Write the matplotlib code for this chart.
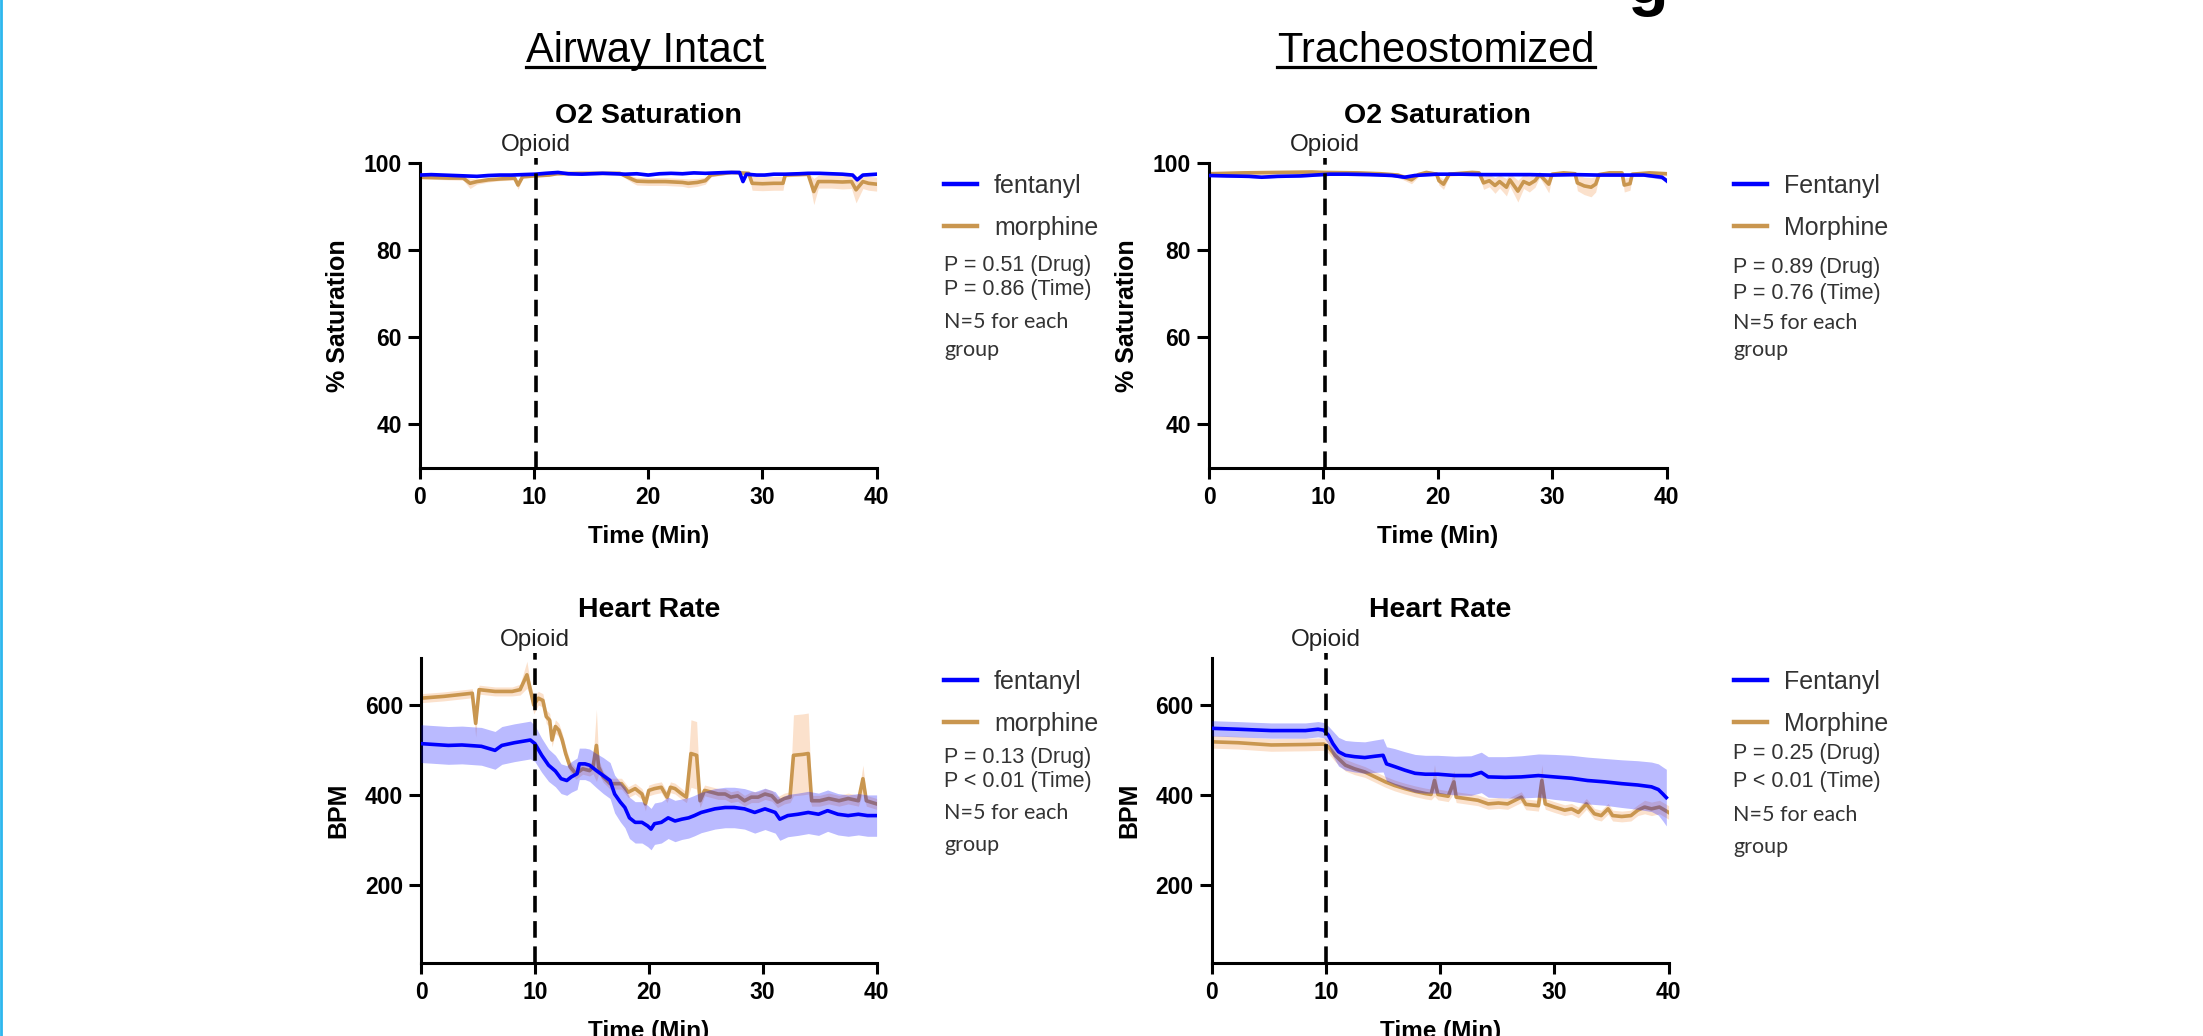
import numpy as np
import matplotlib
matplotlib.use("Agg")
import matplotlib.pyplot as plt
from matplotlib.lines import Line2D

# ---------------- data ----------------
# O2 saturation, airway intact
fen_o2_int_t = [0, 1, 2, 3, 4, 5, 6, 7, 8, 9, 10.1, 11, 12.1, 13, 14.2, 15, 16, 17.1, 18, 19, 20, 21, 22,
                23, 24, 25, 26, 27, 28, 28.3, 28.6, 29.5, 30.2, 31, 32, 33.2, 34, 35, 36, 37, 37.9, 38.3,
                38.8, 40]
fen_o2_int_v = [97.3, 97.4, 97.3, 97.2, 97.1, 97.0, 97.2, 97.3, 97.3, 97.4, 97.5, 97.7, 97.9, 97.6, 97.5,
                97.6, 97.7, 97.6, 97.5, 97.6, 97.3, 97.6, 97.7, 97.6, 97.8, 97.7, 97.8, 97.9, 97.9, 95.8,
                97.5, 97.3, 97.3, 97.5, 97.5, 97.6, 97.7, 97.7, 97.6, 97.5, 97.3, 96.2, 97.3, 97.5]
fen_o2_int_e = [0.3] * 44
mor_o2_int_t = [0, 2.5, 3.8, 4.4, 5, 6, 7, 8.3, 8.6, 9, 10, 11.3, 12, 14.2, 16, 17.5, 18.7, 19, 20, 21.5,
                23, 23.5, 24.3, 25, 25.5, 27.3, 28.8, 29.1, 30, 31, 31.8, 32, 34, 34.5, 34.9, 36, 37,
                37.8, 38.2, 38.8, 39.3, 40]
mor_o2_int_v = [96.8, 96.6, 96.6, 95.4, 95.8, 96.2, 96.4, 96.6, 95.0, 96.9, 97.1, 97.3, 97.6, 97.7, 97.7,
                97.7, 96.2, 95.9, 95.8, 95.8, 95.6, 95.4, 95.6, 96.0, 97.3, 97.9, 97.7, 95.4, 95.3, 95.4,
                95.4, 97.3, 97.5, 93.5, 95.8, 95.8, 95.7, 95.8, 93.9, 95.8, 95.4, 95.2]
mor_o2_int_e = [0.4, 0.4, 0.5, 1.2, 0.6, 0.5, 0.4, 0.5, 1.0, 0.4, 0.3, 0.3, 0.3, 0.3, 0.3, 0.3, 0.8, 0.9,
                0.9, 0.9, 0.9, 1.0, 0.9, 0.8, 0.4, 0.3, 0.4, 1.6, 1.6, 1.6, 1.6, 0.4, 0.4, 3.0, 1.5, 1.5,
                1.6, 1.6, 3.0, 1.6, 1.6, 1.6]

# O2 saturation, tracheostomized
fen_o2_tra_t = [0, 1.5, 3.5, 4.6, 6, 8, 9.9, 10.5, 12, 14, 16, 17.1, 18, 19.9, 22, 24, 26, 28, 30, 32, 34,
                36, 38, 39.6, 40]
fen_o2_tra_v = [97.2, 97.1, 97.0, 96.8, 97.0, 97.1, 97.4, 97.5, 97.5, 97.4, 97.2, 96.8, 97.2, 97.5, 97.5,
                97.4, 97.4, 97.4, 97.3, 97.4, 97.3, 97.3, 97.3, 96.8, 96.0]
fen_o2_tra_e = [0.3] * 23 + [0.5, 0.6]
mor_o2_tra_t = [0, 3, 6, 9, 10, 13, 15, 16.5, 17.7, 18.3, 19, 19.9, 20.1, 20.5, 21, 23, 23.6, 24, 24.5, 25,
                25.4, 26, 26.3, 27, 27.5, 28, 28.5, 28.9, 29.7, 30, 31, 32, 32.2, 32.8, 33.4, 33.8, 34.1,
                35, 36.1, 36.3, 36.8, 37, 38.5, 40]
mor_o2_tra_v = [97.6, 97.8, 97.9, 98.0, 97.9, 97.8, 97.6, 97.3, 96.2, 97.4, 97.9, 97.5, 96.0, 95.2, 97.5,
                97.9, 97.8, 95.5, 96.0, 94.9, 95.8, 94.5, 96.2, 93.6, 95.8, 95.2, 96.0, 97.4, 95.2, 97.5,
                97.8, 97.6, 95.5, 94.8, 94.5, 95.2, 97.4, 97.8, 97.8, 95.0, 95.3, 97.5, 97.8, 97.6]
mor_o2_tra_e = [0.4, 0.4, 0.4, 0.4, 0.4, 0.4, 0.4, 0.5, 0.9, 0.5, 0.4, 0.5, 1.0, 1.2, 0.5, 0.4, 0.4, 1.5,
                1.4, 1.8, 1.5, 2.0, 1.5, 2.5, 1.6, 1.8, 1.5, 0.6, 2.0, 0.5, 0.4, 0.5, 1.8, 2.0, 2.2, 1.8,
                0.5, 0.4, 0.4, 1.6, 1.5, 0.5, 0.4, 0.5]

# Heart rate, airway intact
fen_hr_int_t = [0, 1.2, 2.4, 3.6, 5.3, 6.5, 7.1, 8.2, 9.6, 10.0, 10.6, 11.2, 11.8, 12.3, 12.8, 13.2, 13.7,
                13.9, 14.4, 14.8, 15.4, 16.0, 16.6, 17.0, 17.5, 17.9, 18.3, 18.8, 19.4, 19.9, 20.2, 20.5,
                21.1, 21.7, 22.3, 22.9, 23.5, 24.0, 24.6, 25.2, 25.8, 26.7, 27.5, 28.4, 29.3, 30.2, 31.1,
                31.5, 32.2, 33.1, 34.0, 34.9, 35.7, 36.6, 37.5, 38.4, 39.2, 40]
fen_hr_int_v = [514, 512, 510, 511, 508, 499, 510, 516, 522, 514, 488, 466, 453, 436, 432, 440, 447, 469,
                469, 466, 454, 443, 432, 402, 384, 372, 349, 339, 339, 331, 324, 336, 339, 349, 342, 346,
                349, 354, 361, 365, 369, 372, 372, 369, 361, 369, 361, 346, 354, 357, 361, 357, 365, 357,
                354, 357, 354, 354]
fen_hr_int_e = [42, 42, 42, 42, 42, 42, 42, 42, 42, 40, 38, 36, 35, 33, 33, 34, 35, 35, 35, 36, 38, 40,
                40, 42, 44, 45, 46, 46, 46, 46, 46, 46, 46, 46, 46, 45, 45, 45, 45, 45, 45, 45, 45, 45,
                46, 46, 46, 47, 47, 47, 47, 47, 46, 46, 46, 46, 46, 46]
mor_hr_int_t = [0, 2.0, 4.5, 4.8, 5.1, 6.5, 8.0, 8.7, 9.3, 9.6, 9.9, 10.3, 10.7, 11.0, 11.3, 11.5, 11.8,
                12.1, 12.4, 12.7, 13.1, 13.6, 14.2, 14.8, 15.1, 15.4, 15.6, 16.0, 16.6, 17.0, 17.6, 18.2,
                18.8, 19.4, 19.7, 20.0, 20.5, 21.1, 21.6, 21.9, 22.3, 22.9, 23.3, 23.7, 24.2, 24.5, 24.9,
                25.5, 26.1, 26.7, 27.2, 27.8, 28.4, 29.0, 29.6, 30.2, 30.8, 31.3, 31.9, 32.4, 32.7, 33.5,
                34.0, 34.3, 35.0, 35.8, 36.7, 37.5, 38.4, 38.8, 39.1, 40]
mor_hr_int_v = [615, 619, 626, 559, 634, 630, 630, 634, 667, 634, 600, 615, 610, 574, 566, 522, 552, 544,
                522, 492, 462, 447, 458, 454, 462, 510, 462, 440, 425, 425, 425, 406, 414, 402, 380, 410,
                414, 417, 395, 417, 414, 402, 395, 492, 488, 387, 410, 406, 402, 402, 395, 398, 387, 395,
                395, 402, 398, 384, 392, 395, 488, 490, 492, 387, 387, 392, 387, 392, 387, 436, 387, 380]
mor_hr_int_e = [10, 10, 10, 30, 10, 10, 10, 12, 30, 15, 20, 15, 15, 15, 15, 15, 15, 15, 15, 15, 12, 12,
                12, 12, 15, 80, 15, 12, 12, 12, 12, 12, 12, 12, 15, 12, 12, 12, 12, 12, 12, 12, 12, 75,
                75, 15, 12, 12, 12, 12, 12, 12, 12, 12, 12, 12, 12, 12, 12, 12, 90, 90, 90, 12, 12, 12,
                12, 12, 12, 30, 12, 12]

# Heart rate, tracheostomized
fen_hr_tra_t = [0, 2.3, 5.2, 8.2, 9.3, 9.8, 10.2, 10.6, 11.1, 11.7, 12.5, 13.4, 14.3, 15.0, 15.3, 16.0,
                16.9, 17.8, 18.7, 19.8, 21.3, 22.7, 23.6, 24.2, 25.7, 27.1, 28.6, 30.0, 31.5, 32.9, 34.4,
                35.9, 37.3, 38.5, 39.1, 39.5, 39.8]
fen_hr_tra_v = [548, 546, 543, 543, 546, 544, 533, 514, 496, 488, 485, 483, 486, 488, 469, 463, 455, 448,
                446, 446, 443, 443, 450, 440, 439, 440, 443, 440, 437, 432, 429, 425, 422, 418, 412, 402,
                394]
fen_hr_tra_e = [17, 17, 17, 17, 17, 17, 20, 28, 32, 33, 34, 35, 36, 37, 38, 40, 41, 42, 42, 42, 43, 44,
                45, 45, 46, 47, 48, 50, 51, 52, 52, 53, 54, 55, 57, 60, 63]
mor_hr_tra_t = [0, 2.3, 5.2, 8.2, 9.8, 10.2, 10.8, 11.7, 12.5, 13.4, 14.3, 15.2, 16.0, 16.9, 17.8, 18.7,
                19.2, 19.5, 19.8, 20.7, 21.2, 21.4, 22.5, 23.3, 24.2, 25.1, 25.9, 27.1, 27.5, 28.6, 28.9,
                29.2, 30.0, 30.9, 31.5, 32.1, 32.8, 33.5, 34.1, 34.7, 35.1, 35.9, 36.7, 37.3, 37.9, 38.5,
                39.2, 40]
mor_hr_tra_v = [518, 516, 511, 512, 513, 507, 488, 466, 458, 451, 440, 429, 421, 414, 408, 403, 401, 432,
                401, 397, 429, 395, 391, 388, 380, 382, 380, 395, 379, 376, 432, 380, 373, 366, 369, 361,
                380, 358, 354, 369, 354, 352, 354, 366, 373, 369, 373, 361]
mor_hr_tra_e = [14, 14, 14, 14, 14, 14, 14, 13, 13, 12, 12, 12, 12, 12, 12, 12, 12, 35, 12, 12, 25, 12,
                12, 12, 12, 12, 12, 12, 12, 12, 35, 12, 12, 12, 12, 12, 12, 12, 12, 12, 12, 12, 12, 12,
                15, 15, 15, 15]

o2_yticks = [40, 60, 80, 100]
hr_yticks = [200, 400, 600]
x_ticks = [0, 10, 20, 30, 40]
opioid_times = [10.2, 10.1, 10.0, 10.0]
headers = ["Airway Intact", "Tracheostomized"]
legend_left = ["fentanyl", "morphine"]
legend_right = ["Fentanyl", "Morphine"]
stats = [["P = 0.51 (Drug)", "P = 0.86 (Time)"],
         ["P = 0.89 (Drug)", "P = 0.76 (Time)"],
         ["P = 0.13 (Drug)", "P < 0.01 (Time)"],
         ["P = 0.25 (Drug)", "P < 0.01 (Time)"]]
n_text = ["N=5 for each", "group"]

# ---------------- styling ----------------
W, H = 2203, 1036
plt.rcParams['font.family'] = ['Liberation Sans', 'DejaVu Sans']
BLUE = '#0000FF'
TAN = '#C9964F'
PEACH = '#FBDCC3'
TXT = '#333333'

fig = plt.figure(figsize=(W / 100, H / 100), dpi=100)


def rect(l, r, top, bottom):
    return [l / W, 1 - bottom / H, (r - l) / W, (bottom - top) / H]


panels = [
    dict(rect=rect(419.8, 876.6, 163.3, 467.7), ylim=(30, 100), yticks=o2_yticks, ylabel='% Saturation',
         title='O2 Saturation', f=(fen_o2_int_t, fen_o2_int_v, fen_o2_int_e),
         m=(mor_o2_int_t, mor_o2_int_v, mor_o2_int_e), leg=legend_left,
         lx=944, ly=183, px=944, py=[265, 290, 322, 350]),
    dict(rect=rect(1209, 1666.6, 163.3, 467.7), ylim=(30, 100), yticks=o2_yticks, ylabel='% Saturation',
         title='O2 Saturation', f=(fen_o2_tra_t, fen_o2_tra_v, fen_o2_tra_e),
         m=(mor_o2_tra_t, mor_o2_tra_v, mor_o2_tra_e), leg=legend_right,
         lx=1734, ly=183, px=1733, py=[267, 293, 323, 350]),
    dict(rect=rect(421, 876.6, 657.7, 962.7), ylim=(27, 705), yticks=hr_yticks, ylabel='BPM',
         title='Heart Rate', f=(fen_hr_int_t, fen_hr_int_v, fen_hr_int_e),
         m=(mor_hr_int_t, mor_hr_int_v, mor_hr_int_e), leg=legend_left,
         lx=944, ly=679, px=944, py=[757, 782, 813, 845]),
    dict(rect=rect(1211.8, 1668.6, 657.7, 962.7), ylim=(27, 705), yticks=hr_yticks, ylabel='BPM',
         title='Heart Rate', f=(fen_hr_tra_t, fen_hr_tra_v, fen_hr_tra_e),
         m=(mor_hr_tra_t, mor_hr_tra_v, mor_hr_tra_e), leg=legend_right,
         lx=1734, ly=679, px=1733, py=[753, 781, 815, 847]),
]

for i, p in enumerate(panels):
    ax = fig.add_axes(p['rect'])
    mt, mv, me = (np.asarray(a, float) for a in p['m'])
    ft, fv, fe = (np.asarray(a, float) for a in p['f'])
    ax.fill_between(mt, mv - me, mv + me, color=PEACH, alpha=0.85, lw=0, zorder=1)
    hm, = ax.plot(mt, mv, color=TAN, lw=2.6, zorder=2, solid_joinstyle='round')
    ax.fill_between(ft, fv - fe, fv + fe, color=BLUE, alpha=0.27, lw=0, zorder=3)
    hf, = ax.plot(ft, fv, color=BLUE, lw=2.6, zorder=4, solid_joinstyle='round')

    ax.set_xlim(0, 40)
    ax.set_ylim(*p['ylim'])
    ax.set_xticks(x_ticks)
    ax.set_yticks(p['yticks'])
    for s in ('top', 'right'):
        ax.spines[s].set_visible(False)
    for s in ('left', 'bottom'):
        ax.spines[s].set_linewidth(2.2)
    ax.tick_params(axis='both', direction='out', width=2.2, labelsize=16.5, color='black')
    ax.tick_params(axis='y', length=9, pad=4)
    ax.tick_params(axis='x', length=8, pad=5)
    plt.setp(ax.get_xticklabels() + ax.get_yticklabels(), fontweight='bold')
    ax.set_xlabel('Time (Min)', fontsize=17.5, fontweight='bold', labelpad=12)
    ax.set_ylabel(p['ylabel'], fontsize=18, fontweight='bold', labelpad=10)
    ax.set_title(p['title'], fontsize=20.5, fontweight='bold', pad=29)

    # opioid marker
    xo = opioid_times[i]
    ax.axvline(xo, ymin=0, ymax=1.016, color='black', lw=2.6, dashes=(4.6, 2.4), clip_on=False, zorder=5)
    ax.annotate('Opioid', xy=(xo, 1.0), xycoords=('data', 'axes fraction'), xytext=(0, 13),
                textcoords='offset points', ha='center', va='center', fontsize=17.5, color='#222222')

    # legend
    lx0 = p['lx']
    leg = ax.legend([hf, hm], p['leg'], loc='upper left', frameon=False,
                    bbox_to_anchor=((lx0) / W, 1 - (p['ly'] - 9) / H), bbox_transform=fig.transFigure,
                    fontsize=18, handlelength=1.3, handletextpad=0.7, labelspacing=0.7,
                    borderpad=0, borderaxespad=0)
    for t in leg.get_texts():
        t.set_color(TXT)
    for h in leg.legend_handles:
        h.set_linewidth(3.2)

    # stats text
    py = p['py']
    for k, s in enumerate(stats[i]):
        fig.text(p['px'] / W, 1 - py[k] / H, s, fontsize=15.5, color=TXT, va='center', ha='left')
    for k, s in enumerate(n_text):
        fig.text(p['px'] / W, 1 - py[2 + k] / H, s, fontsize=15.5, color=TXT, va='center', ha='left',
                 family=['Lato', 'DejaVu Sans'])

# column headers with underline
renderer = fig.canvas.get_renderer()
for hx, txt in zip([645, 1436], headers):
    t = fig.text(hx / W, 1 - 62 / H, txt, fontsize=30, ha='center', va='baseline', color='black')
    bb = t.get_window_extent(renderer=renderer)
    fig.add_artist(Line2D([bb.x0 / W, bb.x1 / W], [1 - 67 / H, 1 - 67 / H], color='black', lw=2.3,
                          transform=fig.transFigure))

# cut-off fragment of a heading above the figure
fig.text(1648 / W, 1 - 3 / H, 'g', fontsize=48, fontweight='bold', ha='center', va='baseline')

# thin coloured border on the left edge
fig.add_artist(Line2D([1.2 / W, 1.2 / W], [0, 1], color='#2DB7EE', lw=2.0, transform=fig.transFigure))

fig.savefig('out.png', dpi=100)
